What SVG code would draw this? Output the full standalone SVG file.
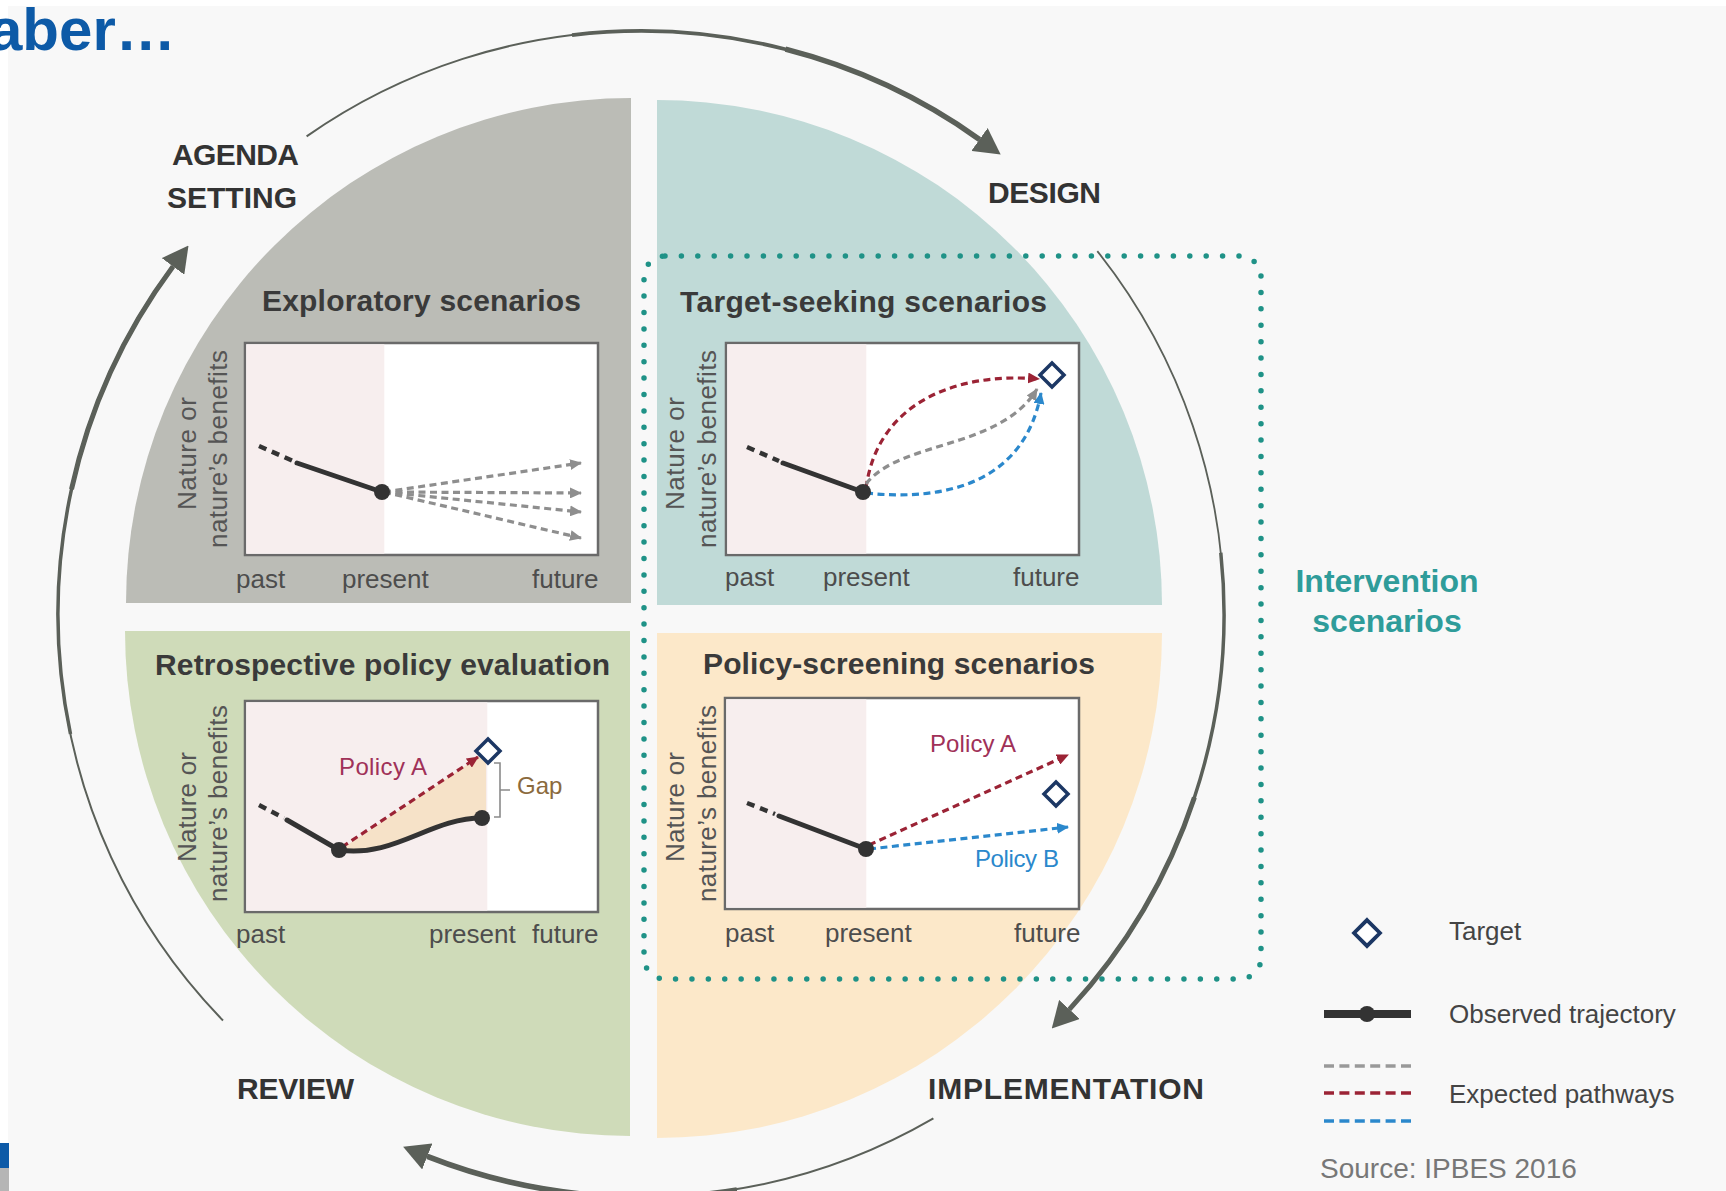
<svg xmlns="http://www.w3.org/2000/svg" width="1726" height="1191" viewBox="0 0 1726 1191">
<defs>
<style>
text{font-family:'Liberation Sans',Arial,Helvetica,sans-serif}
.stage{font-size:30px;font-weight:bold;fill:#333}
.title{font-size:30px;font-weight:bold;fill:#3a3a3a}
.axis{font-size:26px;fill:#4d4d4d}
.ylab{font-size:26px;fill:#555}
.leg{font-size:26px;fill:#444}
.frame{fill:#fff;stroke:#6a6a6a;stroke-width:2.5}
.pink{fill:#f7eeee}
.obs{fill:none;stroke:#333;stroke-width:5;stroke-linecap:round}
.obsd{fill:none;stroke:#333;stroke-width:4.5;stroke-dasharray:8 6}
.dot{fill:#333}
.tg{fill:#fff;stroke:#1c3764;stroke-width:3.5}
.pg{fill:none;stroke:#8e8e8e;stroke-width:3.2;stroke-dasharray:7 4.5}
.pr{fill:none;stroke:#9b2335;stroke-width:3.2;stroke-dasharray:7 4.5}
.pb{fill:none;stroke:#2b88cc;stroke-width:3.2;stroke-dasharray:7 4.5}
.cyc{fill:none;stroke:#5b6059}
.pol{font-size:24px}
</style>
<marker id="big" markerUnits="userSpaceOnUse" markerWidth="26" markerHeight="28" viewBox="0 0 26 28" refX="0" refY="14" orient="auto"><path d="M0,0 L26,14 L0,28 Z" fill="#5b6059"/></marker>
<marker id="ag" markerUnits="userSpaceOnUse" markerWidth="12" markerHeight="11" viewBox="0 0 12 11" refX="11" refY="5.5" orient="auto"><path d="M0,0 L12,5.5 L0,11 Z" fill="#8e8e8e"/></marker>
<marker id="ar" markerUnits="userSpaceOnUse" markerWidth="12" markerHeight="11" viewBox="0 0 12 11" refX="11" refY="5.5" orient="auto"><path d="M0,0 L12,5.5 L0,11 Z" fill="#9b2335"/></marker>
<marker id="ab" markerUnits="userSpaceOnUse" markerWidth="12" markerHeight="11" viewBox="0 0 12 11" refX="11" refY="5.5" orient="auto"><path d="M0,0 L12,5.5 L0,11 Z" fill="#2b88cc"/></marker>
<path id="dia" class="tg" d="M0,-12 L12,0 L0,12 L-12,0 Z"/>
</defs>

<rect width="1726" height="1191" fill="#fff"/>
<rect x="8" y="6" width="1718" height="1185" fill="#f8f8f8"/>

<g id="sectors">
<path id="sector-exploratory" d="M631,603 H126 A505,505 0 0 1 631,98 Z" fill="#bbbcb6"/>
<path id="sector-target" d="M657,605 V100 A505,505 0 0 1 1162,605 Z" fill="#c0dad7"/>
<path id="sector-retrospective" d="M630,631 V1136 A505,505 0 0 1 125,631 Z" fill="#cfdbb9"/>
<path id="sector-policy" d="M657,633 H1162 A505,505 0 0 1 657,1138 Z" fill="#fce8c9"/>
</g>

<g id="connectors">
<path class="cyc" stroke-width="2" d="M306.6,136.4 A583,583 0 0 1 979.5,139.4"/>
<path class="cyc" stroke-width="3.8" d="M572,35.1 A583,583 0 0 1 979.5,139.4"/>
<path class="cyc" stroke-width="5.5" d="M785.5,49.2 A583,583 0 0 1 979.5,139.4" marker-end="url(#big)"/>
<path class="cyc" stroke-width="1.8" d="M1097.3,251.1 A583,583 0 0 1 1069.4,1009.4"/>
<path class="cyc" stroke-width="3.5" d="M1220.8,552.8 A583,583 0 0 1 1069.4,1009.4"/>
<path class="cyc" stroke-width="5" d="M1194.4,797.5 A583,583 0 0 1 1069.4,1009.4" marker-end="url(#big)"/>
<path class="cyc" stroke-width="2" d="M933.4,1118.4 A583,583 0 0 1 427.3,1156.4"/>
<path class="cyc" stroke-width="4" d="M736.8,1189.1 A583,583 0 0 1 427.3,1156.4"/>
<path class="cyc" stroke-width="5.5" d="M579.8,1193.8 A583,583 0 0 1 427.3,1156.4" marker-end="url(#big)"/>
<path class="cyc" stroke-width="2" d="M223,1020.5 A583,583 0 0 1 173,266.4"/>
<path class="cyc" stroke-width="3.5" d="M70.5,734 A583,583 0 0 1 173,266.4"/>
<path class="cyc" stroke-width="5" d="M71.5,489.2 A583,583 0 0 1 173,266.4" marker-end="url(#big)"/>
</g>

<g id="intervention">
<rect x="644" y="256" width="617" height="723" rx="21" fill="none" stroke="#1f9287" stroke-width="5.5" stroke-linecap="round" stroke-dasharray="0 16.4"/>
<text x="1387" y="592" text-anchor="middle" font-size="32" font-weight="bold" fill="#2f9c9a">Intervention</text>
<text x="1387" y="632" text-anchor="middle" font-size="32" font-weight="bold" fill="#2f9c9a">scenarios</text>
</g>

<g id="title">
<text x="-11" y="50" font-size="60" font-weight="bold" fill="#0d5aa7">aber…</text>
<rect x="0" y="1143" width="9" height="25" fill="#0d5aa7"/>
<rect x="0" y="1168" width="9" height="23" fill="#b5b5b5"/>
</g>

<g id="stage-agenda"><text class="stage" x="172" y="165" textLength="127">AGENDA</text><text class="stage" x="167" y="208" textLength="130">SETTING</text></g>
<g id="stage-design"><text class="stage" x="988" y="203" textLength="113">DESIGN</text></g>
<g id="stage-review"><text class="stage" x="237" y="1099" textLength="117">REVIEW</text></g>
<g id="stage-implementation"><text class="stage" x="928" y="1099" textLength="276">IMPLEMENTATION</text></g>

<g id="panel-exploratory">
<text class="title" x="262" y="311" textLength="319">Exploratory scenarios</text>
<rect class="frame" x="245" y="343" width="353" height="212"/>
<rect class="pink" x="246.3" y="344.3" width="138" height="209.4"/>
<line class="obsd" x1="259" y1="446" x2="293" y2="461"/>
<line class="obs" x1="297" y1="463" x2="382" y2="492"/>
<path class="pg" d="M384,492 L581,463" marker-end="url(#ag)"/>
<path class="pg" d="M384,492 L581,493" marker-end="url(#ag)"/>
<path class="pg" d="M384,492 L581,512" marker-end="url(#ag)"/>
<path class="pg" d="M384,492 L581,538" marker-end="url(#ag)"/>
<circle class="dot" cx="382" cy="492" r="8"/>
<text class="ylab" transform="translate(196,510) rotate(-90)" textLength="113">Nature or</text>
<text class="ylab" transform="translate(227,548) rotate(-90)" textLength="198">nature’s benefits</text>
<text class="axis" x="236" y="588">past</text>
<text class="axis" x="342" y="588">present</text>
<text class="axis" x="532" y="588">future</text>
</g>

<g id="panel-target">
<text class="title" x="680" y="312" textLength="367">Target-seeking scenarios</text>
<rect class="frame" x="726" y="343" width="353" height="212"/>
<rect class="pink" x="727.3" y="344.3" width="139" height="209.4"/>
<line class="obsd" x1="747" y1="447" x2="779" y2="461"/>
<line class="obs" x1="783" y1="463" x2="863" y2="492"/>
<path class="pr" d="M866,488 C878,400 960,372 1039,379" marker-end="url(#ar)"/>
<path class="pg" d="M866,484 C900,440 1000,450 1037,389" marker-end="url(#ag)"/>
<path class="pb" d="M866,493 C950,502 1025,480 1041,393" marker-end="url(#ab)"/>
<circle class="dot" cx="863" cy="492" r="8"/>
<use href="#dia" x="1052" y="375"/>
<text class="ylab" transform="translate(684,510) rotate(-90)" textLength="113">Nature or</text>
<text class="ylab" transform="translate(716,548) rotate(-90)" textLength="198">nature’s benefits</text>
<text class="axis" x="725" y="586">past</text>
<text class="axis" x="823" y="586">present</text>
<text class="axis" x="1013" y="586">future</text>
</g>

<g id="panel-retrospective">
<text class="title" x="155" y="675" textLength="455">Retrospective policy evaluation</text>
<rect class="frame" x="245" y="701" width="353" height="211"/>
<rect class="pink" x="246.3" y="702.3" width="241" height="208.4"/>
<path d="M340,850 L486,752 L486,818 C430,818 395,858 339,850 Z" fill="#f6e2c8"/>
<line class="obsd" x1="259" y1="805" x2="284" y2="818"/>
<line class="obs" x1="287" y1="820" x2="339" y2="850"/>
<path class="obs" d="M339,850 C395,858 430,818 482,818"/>
<path class="pr" d="M342,847 L478,757" marker-end="url(#ar)"/>
<circle class="dot" cx="339" cy="850" r="8"/>
<circle class="dot" cx="482" cy="818" r="8"/>
<use href="#dia" x="488" y="751"/>
<path d="M494,763 H500 V817 H494 M500,790 H510" fill="none" stroke="#8a8a8a" stroke-width="1.6"/>
<text class="pol" x="517" y="794" fill="#8b6a3c">Gap</text>
<text class="pol" x="339" y="775" fill="#a03158" textLength="88">Policy A</text>
<text class="ylab" transform="translate(196,862) rotate(-90)" textLength="110">Nature or</text>
<text class="ylab" transform="translate(227,902) rotate(-90)" textLength="197">nature’s benefits</text>
<text class="axis" x="236" y="943">past</text>
<text class="axis" x="429" y="943">present</text>
<text class="axis" x="532" y="943">future</text>
</g>

<g id="panel-policy">
<text class="title" x="703" y="674" textLength="392">Policy-screening scenarios</text>
<rect class="frame" x="725" y="698" width="354" height="211"/>
<rect class="pink" x="726.3" y="699.3" width="140" height="208.4"/>
<line class="obsd" x1="747" y1="803" x2="775" y2="814"/>
<line class="obs" x1="779" y1="816" x2="866" y2="849"/>
<path class="pr" d="M869,845 L1068,755" marker-end="url(#ar)"/>
<path class="pb" d="M869,849 L1068,827" marker-end="url(#ab)"/>
<circle class="dot" cx="866" cy="849" r="8"/>
<use href="#dia" x="1056" y="794"/>
<text class="pol" x="930" y="752" fill="#a03158" textLength="86">Policy A</text>
<text class="pol" x="975" y="867" fill="#2b88cc" textLength="84">Policy B</text>
<text class="ylab" transform="translate(684,862) rotate(-90)" textLength="110">Nature or</text>
<text class="ylab" transform="translate(716,902) rotate(-90)" textLength="197">nature’s benefits</text>
<text class="axis" x="725" y="942">past</text>
<text class="axis" x="825" y="942">present</text>
<text class="axis" x="1014" y="942">future</text>
</g>

<g id="legend">
<use href="#dia" x="1367" y="933" transform="translate(1367,933) scale(1.08) translate(-1367,-933)"/>
<text class="leg" x="1449" y="940">Target</text>
<line x1="1324" y1="1014" x2="1411" y2="1014" stroke="#333" stroke-width="8"/>
<circle class="dot" cx="1367" cy="1014" r="8"/>
<text class="leg" x="1449" y="1023">Observed trajectory</text>
<line x1="1324" y1="1066" x2="1411" y2="1066" stroke="#999" stroke-width="3.5" stroke-dasharray="10 5.4"/>
<line x1="1324" y1="1093" x2="1411" y2="1093" stroke="#9b2335" stroke-width="3.5" stroke-dasharray="10 5.4"/>
<line x1="1324" y1="1121" x2="1411" y2="1121" stroke="#2b88cc" stroke-width="3.5" stroke-dasharray="10 5.4"/>
<text class="leg" x="1449" y="1103">Expected pathways</text>
<text x="1320" y="1178" font-size="28" fill="#777">Source: IPBES 2016</text>
</g>
</svg>
